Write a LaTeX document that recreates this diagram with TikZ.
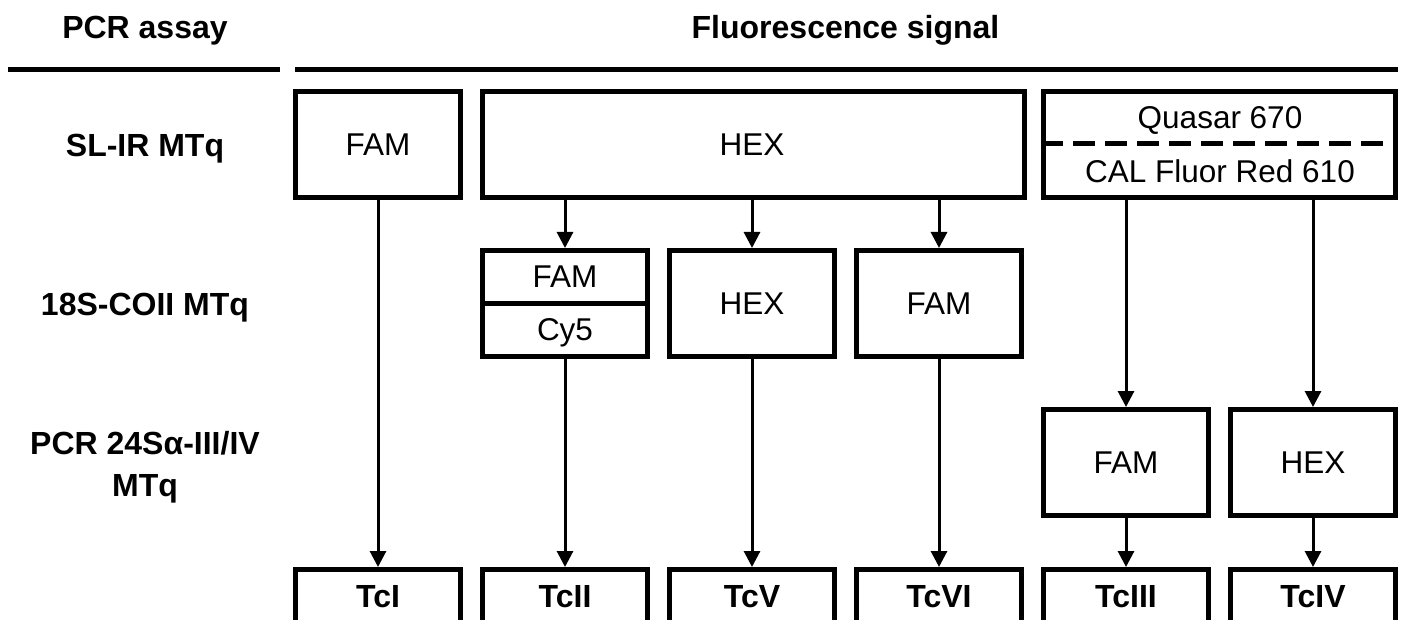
\documentclass[tikz,border=0pt]{standalone}
\usepackage{fontspec}
\setmainfont{Liberation Sans}
\usetikzlibrary{arrows.meta}
\begin{document}
\begin{tikzpicture}[x=1pt,y=-1pt,
  txt/.style={font=\fontsize{31.5}{36}\selectfont, inner sep=0pt, text depth=0pt},
  box/.style={txt, draw, line width=5pt, minimum width=165pt, minimum height=106pt},
  lbl/.style={font=\fontsize{32}{42}\selectfont\bfseries, align=center, inner sep=0pt, text depth=0pt},
  tcbox/.style={draw, line width=5pt, minimum width=165pt, inner xsep=0pt, inner ysep=0pt, text height=37.5pt, text depth=30pt, anchor=base, font=\fontsize{32}{36}\selectfont\bfseries},
  arr/.style={line width=3pt, -{Triangle[length=16pt,width=16pt]}},
  rule/.style={line width=5pt}]
\useasboundingbox (0,0) rectangle (1404,620);
\clip (0,0) rectangle (1404,620);
% headers
\node[lbl] (hpcr) at (145,27) {PCR assay};
\node[lbl] (hfl) at (845.5,27) {Fluorescence signal};
\coordinate (l1a) at (8,70); \coordinate (l1b) at (280,70);
\coordinate (l2a) at (295,70); \coordinate (l2b) at (1398,70);
\draw[rule] (l1a) -- (l1b);
\draw[rule] (l2a) -- (l2b);
% row labels
\node[lbl] (r1) at (145,145) {SL-IR MTq};
\node[lbl] (r2) at (145,304) {18S-COII MTq};
\node[lbl] (r3) at (145,463.5) {PCR 24Sα-III/IV\\MTq};
% row 1
\node[box] (fam1) at (378,144.5) {FAM};
\node[box, minimum width=542pt] (hexbig) at (753.5,144.5) {};
\node[txt] (hexbigt) at (752,144.5) {HEX};
\node[box, minimum width=352pt] (q) at (1219.5,144.5) {};
\node[txt] (qtop) at (1220,117.5) {Quasar 670};
\node[txt] (qbot) at (1220,171.5) {CAL Fluor Red 610};
\draw[line width=5pt, dash pattern=on 22pt off 10pt] (q.west |- 0,144) -- (q.east |- 0,144);
% row 2
\node[box, minimum height=52.5pt] (fam2) at (565,276.75) {FAM};
\node[box, minimum height=53.5pt] (cy5) at (565,329.75) {Cy5};
\node[box] (hex3) at (752,303.5) {HEX};
\node[box] (fam4) at (939,303.5) {FAM};
% row 3
\node[box] (fam5) at (1126,462.5) {FAM};
\node[box] (hex6) at (1313,462.5) {HEX};
% bottom
\node[tcbox] (tc1) at (378,607) {TcI};
\node[tcbox] (tc2) at (565,607) {TcII};
\node[tcbox] (tc5) at (752,607) {TcV};
\node[tcbox] (tc6) at (939,607) {TcVI};
\node[tcbox] (tc3) at (1126,607) {TcIII};
\node[tcbox] (tc4) at (1313,607) {TcIV};
% arrows
\draw[arr] (fam1.south) -- (tc1.north);
\draw[arr] (fam2.north |- hexbig.south) -- (fam2.north);
\draw[arr] (hex3.north |- hexbig.south) -- (hex3.north);
\draw[arr] (fam4.north |- hexbig.south) -- (fam4.north);
\draw[arr] (cy5.south) -- (tc2.north);
\draw[arr] (hex3.south) -- (tc5.north);
\draw[arr] (fam4.south) -- (tc6.north);
\draw[arr] (fam5.north |- q.south) -- (fam5.north);
\draw[arr] (hex6.north |- q.south) -- (hex6.north);
\draw[arr] (fam5.south) -- (tc3.north);
\draw[arr] (hex6.south) -- (tc4.north);
\end{tikzpicture}
\end{document}
